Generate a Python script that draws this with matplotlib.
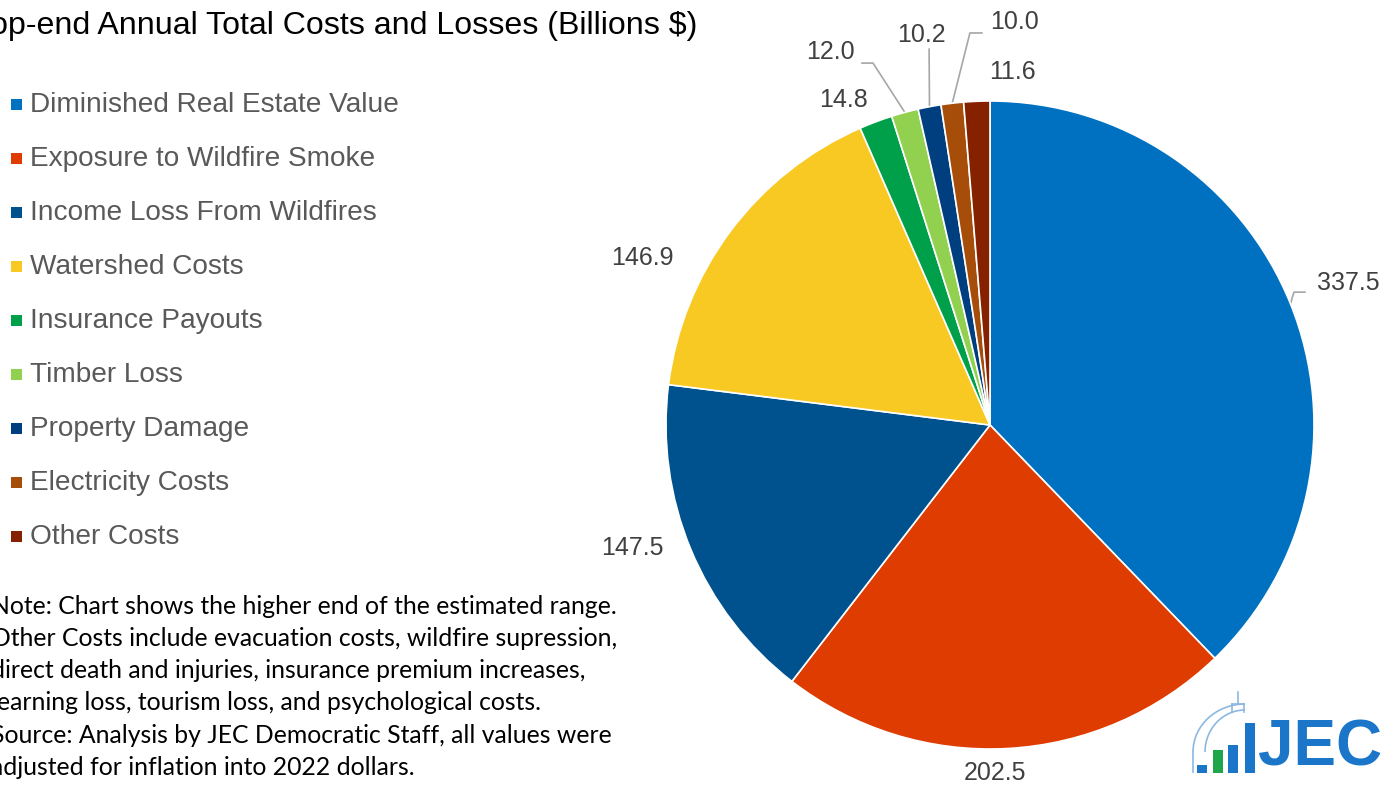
import numpy as np
import matplotlib
matplotlib.use('Agg')
import matplotlib.pyplot as plt
from matplotlib.patches import Rectangle, Arc

W, H = 1398, 787

categories = ['Diminished Real Estate Value', 'Exposure to Wildfire Smoke',
              'Income Loss From Wildfires', 'Watershed Costs', 'Insurance Payouts',
              'Timber Loss', 'Property Damage', 'Electricity Costs', 'Other Costs']
values = [337.5, 202.5, 147.5, 146.9, 14.8, 12.0, 10.2, 10.0, 11.6]
colors = ['#0070C0', '#DE3C00', '#00528F', '#F8C923', '#00A04A',
          '#92D050', '#003F7F', '#A64D09', '#862100']

title = 'Top-end Annual Total Costs and Losses (Billions $)'
note_lines = ['Note: Chart shows the higher end of the estimated range.',
              'Other Costs include evacuation costs, wildfire supression,',
              'direct death and injuries, insurance premium increases,',
              'learning loss, tourism loss, and psychological costs.',
              'Source: Analysis by JEC Democratic Staff, all values were',
              'adjusted for inflation into 2022 dollars.']

# label placement: (radius, angle deg) in pie units, plus optional leader elbow/end
label_place = [(1.19, 21.6), (1.074, -89.2), (1.168, -161.0), (1.191, 154.4),
               (1.101, 114.3), (1.253, 113.2), (1.222, 99.9), (1.246, 86.5),
               (1.092, 86.4)]
leaders = {0: [(0.938, 0.410), (0.972, 0.410)],
           5: [(-0.361, 1.117), (-0.395, 1.117)],
           6: [(-0.188, 1.160)],
           7: [(-0.062, 1.210), (-0.025, 1.210)]}


def px(x, y):
    return x / W, 1 - y / H


fig = plt.figure(figsize=(W / 100, H / 100), dpi=100)
fig.patch.set_facecolor('white')

ax = fig.add_axes([666 / W, (H - 749) / H, 648 / W, 648 / H])
wedges, _ = ax.pie(values, colors=colors, startangle=90, counterclock=False,
                   radius=1, wedgeprops=dict(edgecolor='white', linewidth=1.2))
ax.set_xlim(-1, 1)
ax.set_ylim(-1, 1)
ax.set_aspect('equal')
ax.axis('off')

for i, (w, v) in enumerate(zip(wedges, values)):
    r, ang = label_place[i]
    a = np.deg2rad(ang)
    ax.text(r * np.cos(a), r * np.sin(a), f'{v:.1f}', ha='center', va='center',
            fontsize=18, color='#404040', family='Liberation Sans', clip_on=False)
    if i in leaders:
        mid = np.deg2rad((w.theta1 + w.theta2) / 2)
        pts = [(np.cos(mid), np.sin(mid))] + leaders[i]
        xs, ys = zip(*pts)
        ax.plot(xs, ys, color='#A6A6A6', lw=1.2, clip_on=False, zorder=0)

# title, clipped on the left like the source
tx, ty = px(697, 26)
fig.text(tx, ty, title, ha='right', va='center', fontsize=23.1, color='black',
         family='Liberation Sans')

# legend
for k, (cat, c) in enumerate(zip(categories, colors)):
    yc = 105 + 54 * k
    x0, y0 = px(11, yc + 5)
    fig.patches.append(Rectangle((x0, y0), 11 / W, 11 / H, transform=fig.transFigure,
                                 facecolor=c, edgecolor='none'))
    lx, ly = px(30, yc)
    fig.text(lx, ly, cat, ha='left', va='center', fontsize=20.2, color='#595959',
             family='Liberation Sans')

# note block
for k, line in enumerate(note_lines):
    nx, ny = px(-9, 606 + 32.3 * k)
    fig.text(nx, ny, line, ha='left', va='center', fontsize=17.8, color='black',
             family='Lato')

# JEC logo
blue = '#1B75C8'
light = '#8DB8E2'
for (x, y0, h, c) in [(1197, 765, 8, blue), (1213, 750, 23, '#1FA64A'),
                      (1228, 745, 28, blue), (1245, 723, 50, blue)]:
    bx, by = px(x, y0 + h)
    fig.patches.append(Rectangle((bx, by), 10 / W, h / H, transform=fig.transFigure,
                                 facecolor=c, edgecolor='none'))
cx, cy = px(1245, 752)
for wd, ht in [(104, 96), (80, 84)]:
    fig.patches.append(Arc((cx, cy), wd / W, ht / H, theta1=90, theta2=180,
                           transform=fig.transFigure, color=light, lw=1.2))
for (xa, ya, xb, yb) in [(1238, 692, 1238, 704), (1232, 704, 1232, 712),
                         (1244, 704, 1244, 712), (1232, 704, 1244, 704),
                         (1193, 752, 1193, 772)]:
    p1 = px(xa, ya)
    p2 = px(xb, yb)
    fig.add_artist(plt.Line2D([p1[0], p2[0]], [p1[1], p2[1]],
                              transform=fig.transFigure, color=light, lw=1.2))
jx, jy = px(1320, 748)
fig.text(jx, jy, 'JEC', ha='center', va='center', fontsize=46, fontweight='bold',
         color=blue, family='Liberation Sans')

fig.savefig('out.png', dpi=100)
